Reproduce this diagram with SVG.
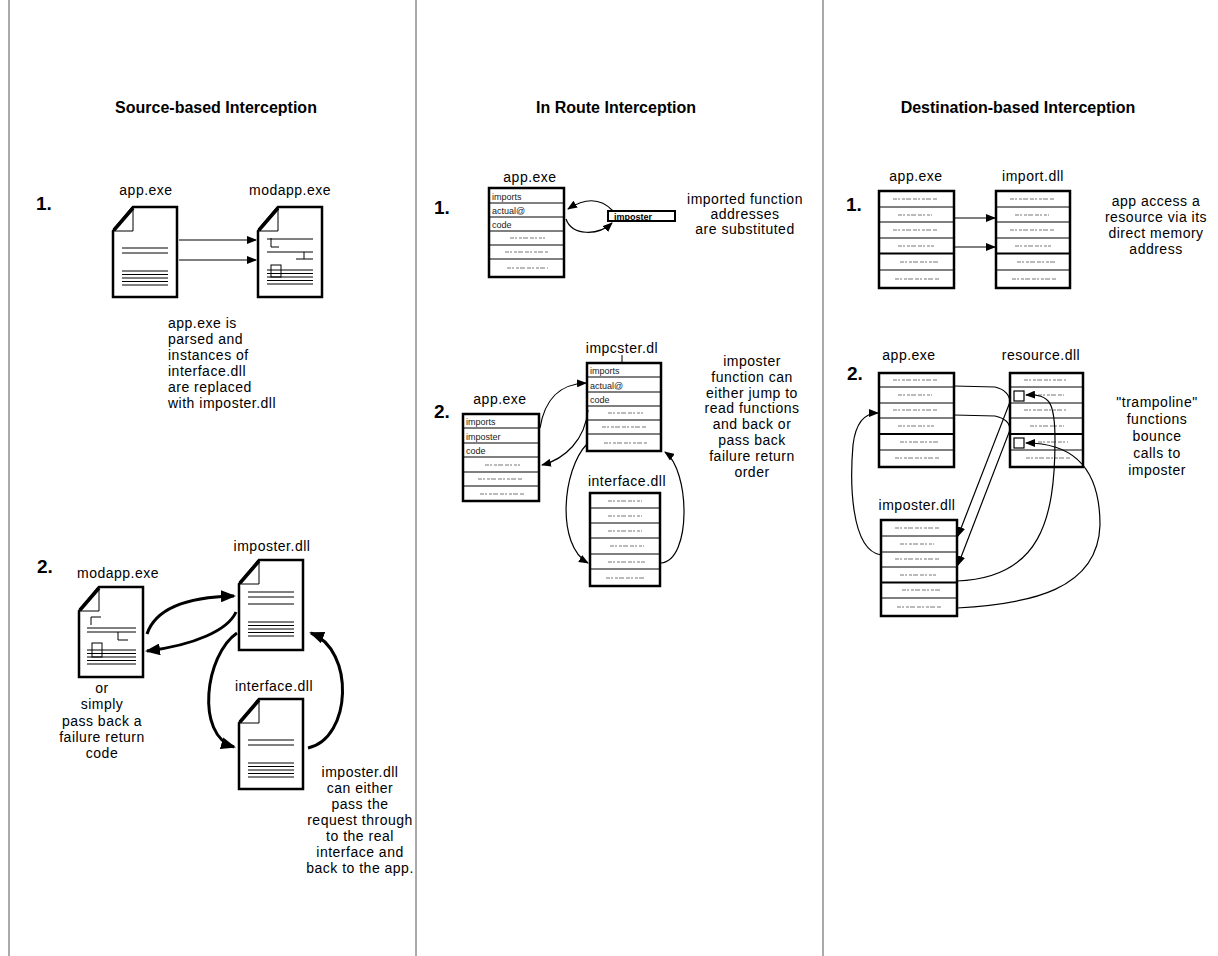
<svg xmlns="http://www.w3.org/2000/svg" width="1218" height="956" viewBox="0 0 1218 956">
<defs>
<style>
.t{font-family:"Liberation Sans",Arial,sans-serif;font-size:14px;fill:#000;letter-spacing:0.5px}
.ttl{font-weight:bold;font-size:16px;letter-spacing:0}
.num{font-weight:bold;font-size:19px;letter-spacing:0}
.lbl{font-size:9px;fill:#222;letter-spacing:0}
.bl{font-size:9px;font-weight:bold;letter-spacing:0}
.tbl{fill:#fff;stroke:#000;stroke-width:2.5}
.row{stroke:#000;stroke-width:1}
.rowb{stroke:#000;stroke-width:2.2}
.scr{stroke:#777;stroke-width:1;stroke-dasharray:4 1 2 2 3 1 5 2}
.doc{fill:#fff;stroke:#000;stroke-width:2.5;stroke-linejoin:miter}
.ear{fill:none;stroke:#000;stroke-width:3.5}
.fold{fill:none;stroke:#000;stroke-width:1}
.dl{fill:none;stroke:#000;stroke-width:1}
.c{fill:none;stroke:#000;stroke-width:1.2}
.cb{fill:none;stroke:#000;stroke-width:3}
.div{stroke:#555;stroke-width:1}
</style>
<marker id="ah" markerUnits="userSpaceOnUse" markerWidth="10" markerHeight="8" refX="9" refY="4" orient="auto"><path d="M0,0 L10,4 L0,8 Z" fill="#000"/></marker>
<marker id="ahb" markerUnits="userSpaceOnUse" markerWidth="15" markerHeight="12" refX="13" refY="6" orient="auto"><path d="M0,0 L15,6 L0,12 Z" fill="#000"/></marker>
<g id="docBody">
<path class="doc" d="M0,24 L20,0 L64,0 L64,90 L0,90 Z"/>
<path class="ear" d="M1,23 L20,1"/>
<path class="fold" d="M0,24 L20,24 L20,0"/>
</g>
<g id="plainLines">
<path class="dl" d="M9,41 H55 M9,46 H55 M9,64 H55 M9,67.5 H55 M9,71 H55 M9,74.5 H55 M9,78 H55"/>
</g>
</defs>

<g id="dividers">
<line class="div" x1="9" y1="0" x2="9" y2="956"/>
<line class="div" x1="416" y1="0" x2="416" y2="956"/>
<line class="div" x1="823" y1="0" x2="823" y2="956"/>
</g>

<g id="titles">
<text class="t ttl" x="216" y="113" text-anchor="middle">Source-based Interception</text>
<text class="t ttl" x="616" y="113" text-anchor="middle">In Route Interception</text>
<text class="t ttl" x="1018" y="113" text-anchor="middle">Destination-based Interception</text>
</g>

<!-- LEFT PANEL -->
<g id="left-step1">
<text class="t num" x="36" y="210">1.</text>
<text class="t" x="146" y="195" text-anchor="middle">app.exe</text>
<text class="t" x="290" y="195" text-anchor="middle">modapp.exe</text>
<text class="t" x="168" y="328"><tspan x="168" y="328">app.exe is</tspan><tspan x="168" y="344">parsed and</tspan><tspan x="168" y="360">instances of</tspan><tspan x="168" y="376">interface.dll</tspan><tspan x="168" y="392">are replaced</tspan><tspan x="168" y="408">with imposter.dll</tspan></text>
</g>
<g id="doc-app1" transform="translate(113,207)">
<use href="#docBody"/><use href="#plainLines"/>
</g>
<g id="doc-modapp1" transform="translate(258,207)">
<use href="#docBody"/>
<path class="dl" d="M9,32 H55 M13,31 V40 H21 M9,45 H55 M46,45 V52 M38,52 H55 M9,63 H55 M9,66.5 H55 M9,70 H55 M9,73.5 H55 M9,77 H55"/>
<rect x="13" y="58" width="10" height="12" fill="none" stroke="#000" stroke-width="1"/>
</g>

<g id="left-step2">
<text class="t num" x="37" y="573">2.</text>
<text class="t" x="118" y="578" text-anchor="middle">modapp.exe</text>
<text class="t" x="272" y="551" text-anchor="middle">imposter.dll</text>
<text class="t" x="274" y="691" text-anchor="middle">interface.dll</text>
<text class="t" text-anchor="middle"><tspan x="102" y="693">or</tspan><tspan x="102" y="709">simply</tspan><tspan x="102" y="726">pass back a</tspan><tspan x="102" y="742">failure return</tspan><tspan x="102" y="758">code</tspan></text>
<text class="t" text-anchor="middle"><tspan x="360" y="777">imposter.dll</tspan><tspan x="360" y="793">can either</tspan><tspan x="360" y="809">pass the</tspan><tspan x="360" y="825">request through</tspan><tspan x="360" y="841">to the real</tspan><tspan x="360" y="857">interface and</tspan><tspan x="360" y="873">back to the app.</tspan></text>
</g>
<g id="doc-modapp2" transform="translate(79,587)">
<use href="#docBody"/>
<path class="dl" d="M12,38 V30 H22 M8,41 H57 M8,45 H57 M39,45 V53 H49 M8,63 H57 M8,66.5 H57 M8,70 H57 M8,73.5 H57 M8,77 H57"/>
<rect x="13" y="56" width="10" height="14" fill="none" stroke="#000" stroke-width="1"/>
</g>
<g id="doc-imposter" transform="translate(239,560)">
<use href="#docBody"/>
<path class="dl" d="M9,32 H55 M9,37 H55 M9,44 H55 M9,62 H55 M9,65.5 H55 M9,69 H55 M9,72.5 H55 M9,76 H55"/>
</g>
<g id="doc-interface" transform="translate(239,699)">
<use href="#docBody"/><use href="#plainLines"/>
</g>

<!-- MIDDLE PANEL -->
<g id="mid-step1">
<text class="t num" x="434" y="214">1.</text>
<text class="t" x="530" y="182" text-anchor="middle">app.exe</text>
<text class="t" text-anchor="middle"><tspan x="745" y="204">imported function</tspan><tspan x="745" y="219">addresses</tspan><tspan x="745" y="234">are substituted</tspan></text>
</g>
<g id="tbl-app-m1">
<rect class="tbl" x="489" y="188" width="75" height="89"/>
<path class="row" d="M489,203 H564 M489,217 H564 M489,231 H564 M489,245 H564 M489,259 H564"/>
<text class="t lbl" x="492" y="200">imports</text>
<text class="t lbl" x="492" y="214">actual@</text>
<text class="t lbl" x="492" y="228">code</text>
<path class="scr" d="M510,238 H545 M505,252 H548 M507,268 H548"/>
</g>
<g id="imposter-box">
<rect x="608" y="211" width="67" height="10" fill="#fff" stroke="#000" stroke-width="2"/>
<text class="t bl" x="614" y="219.5">imposter</text>
</g>

<g id="mid-step2">
<text class="t num" x="434" y="418">2.</text>
<text class="t" x="500" y="404" text-anchor="middle">app.exe</text>
<text class="t" x="622" y="353" text-anchor="middle">impcster.dl</text>
<line class="dl" x1="622" y1="355" x2="622" y2="363"/>
<text class="t" x="627" y="486" text-anchor="middle">interface.dll</text>
<text class="t" text-anchor="middle"><tspan x="752" y="366">imposter</tspan><tspan x="752" y="382">function can</tspan><tspan x="752" y="398">either jump to</tspan><tspan x="752" y="413">read functions</tspan><tspan x="752" y="429">and back or</tspan><tspan x="752" y="445">pass back</tspan><tspan x="752" y="461">failure return</tspan><tspan x="752" y="477">order</tspan></text>
</g>
<g id="tbl-app-m2">
<rect class="tbl" x="463" y="414" width="76" height="87"/>
<path class="row" d="M463,428 H539 M463,443 H539 M463,457 H539 M463,472 H539 M463,486 H539"/>
<text class="t lbl" x="466" y="425">imports</text>
<text class="t lbl" x="466" y="440">imposter</text>
<text class="t lbl" x="466" y="454">code</text>
<path class="scr" d="M485,465 H520 M478,479 H523 M480,494 H525"/>
</g>
<g id="tbl-impdll-m2">
<rect class="tbl" x="587" y="363" width="74" height="88"/>
<path class="row" d="M587,377 H661 M587,392 H661 M587,406 H661 M587,420 H661 M587,434 H661"/>
<text class="t lbl" x="590" y="374">imports</text>
<text class="t lbl" x="590" y="389">actual@</text>
<text class="t lbl" x="590" y="403">code</text>
<path class="scr" d="M608,413 H643 M602,427 H646 M604,443 H647"/>
</g>
<g id="tbl-iface-m2">
<rect class="tbl" x="590" y="493" width="70" height="93"/>
<path class="row" d="M590,508 H660 M590,523 H660 M590,538 H660 M590,554 H660 M590,569 H660"/>
<path class="scr" d="M608,501 H642 M608,516 H642 M608,531 H642 M610,546 H644 M608,562 H645 M606,578 H646"/>
</g>

<!-- RIGHT PANEL -->
<g id="right-step1">
<text class="t num" x="846" y="211">1.</text>
<text class="t" x="916" y="181" text-anchor="middle">app.exe</text>
<text class="t" x="1033" y="181" text-anchor="middle">import.dll</text>
<text class="t" text-anchor="middle"><tspan x="1156" y="206">app access a</tspan><tspan x="1156" y="222">resource via its</tspan><tspan x="1156" y="238">direct memory</tspan><tspan x="1156" y="254">address</tspan></text>
</g>
<g id="tbl-app-r1">
<rect class="tbl" x="879" y="191" width="75" height="97"/>
<path class="row" d="M879,207 H954 M879,222 H954 M879,238 H954 M879,270 H954"/>
<path class="rowb" d="M879,253.5 H954"/>
<path class="scr" d="M893,199 H937 M898,215 H932 M893,230 H937 M898,246 H934 M900,262 H938 M895,279 H940"/>
</g>
<g id="tbl-import-r1">
<rect class="tbl" x="996" y="191" width="74" height="97"/>
<path class="row" d="M996,207 H1070 M996,222 H1070 M996,238 H1070 M996,270 H1070"/>
<path class="rowb" d="M996,253.5 H1070"/>
<path class="scr" d="M1010,199 H1054 M1015,215 H1049 M1010,230 H1054 M1015,246 H1051 M1017,262 H1055 M1012,279 H1057"/>
</g>

<g id="right-step2">
<text class="t num" x="847" y="380">2.</text>
<text class="t" x="909" y="360" text-anchor="middle">app.exe</text>
<text class="t" x="1041" y="360" text-anchor="middle">resource.dll</text>
<text class="t" x="917" y="510" text-anchor="middle">imposter.dll</text>
<text class="t" text-anchor="middle"><tspan x="1157" y="407">"trampoline"</tspan><tspan x="1157" y="424">functions</tspan><tspan x="1157" y="441">bounce</tspan><tspan x="1157" y="458">calls to</tspan><tspan x="1157" y="475">imposter</tspan></text>
</g>
<g id="tbl-app-r2">
<rect class="tbl" x="879" y="373" width="75" height="94"/>
<path class="row" d="M879,387 H954 M879,403 H954 M879,418 H954 M879,450 H954"/>
<path class="rowb" d="M879,434 H954"/>
<path class="scr" d="M893,380 H937 M898,395 H932 M893,410 H937 M898,426 H934 M900,442 H938 M895,458 H940"/>
</g>
<g id="tbl-resource-r2">
<rect class="tbl" x="1010" y="373" width="73" height="94"/>
<path class="row" d="M1010,387 H1083 M1010,403 H1083 M1010,418 H1083 M1010,450 H1083"/>
<path class="rowb" d="M1010,434 H1083"/>
<path class="scr" d="M1024,380 H1066 M1038,395 H1064 M1024,410 H1066 M1030,426 H1064 M1038,442 H1068 M1026,458 H1070"/>
<rect x="1014" y="391" width="10" height="10" fill="#fff" stroke="#000" stroke-width="1.2"/>
<rect x="1014" y="438" width="10" height="10" fill="#fff" stroke="#000" stroke-width="1.2"/>
</g>
<g id="tbl-imposter-r2">
<rect class="tbl" x="881" y="520" width="76" height="96"/>
<path class="row" d="M881,536 H957 M881,552 H957 M881,567 H957 M881,598 H957"/>
<path class="rowb" d="M881,582.5 H957"/>
<path class="scr" d="M895,528 H939 M900,544 H934 M895,559 H939 M900,575 H936 M902,590 H940 M897,607 H942"/>
</g>

<g id="connectors">
<!-- left step 1 -->
<path class="c" d="M179,240 H256" stroke-width="1.3" marker-end="url(#ah)"/>
<path class="c" d="M179,260 H256" stroke-width="1.3" marker-end="url(#ah)"/>
<!-- left step 2 -->
<path class="cb" d="M147,634 C155,610 185,597 234,596" marker-end="url(#ahb)"/>
<path class="cb" d="M236,612 C228,630 195,645 147,651" marker-end="url(#ahb)"/>
<path class="cb" d="M237,633 C205,655 195,735 234,747" marker-end="url(#ahb)"/>
<path class="cb" d="M308,748 C352,738 355,650 311,633" marker-end="url(#ahb)"/>
<!-- middle step 1 -->
<path class="c" d="M613,211 C600,197 585,198 568,209" marker-end="url(#ah)"/>
<path class="c" d="M566,219 C572,236 598,236 612,223" marker-end="url(#ah)"/>
<!-- middle step 2 -->
<path class="c" d="M540,428 C545,398 560,384 586,383" marker-end="url(#ah)"/>
<path class="c" d="M588,410 C585,440 565,459 542,465" marker-end="url(#ah)"/>
<path class="c" d="M587,444 C562,470 556,545 588,563" marker-end="url(#ah)"/>
<path class="c" d="M661,563 C692,560 690,470 665,452" marker-end="url(#ah)"/>
<!-- right step 1 -->
<path class="c" d="M954,218 H995" marker-end="url(#ah)"/>
<path class="c" d="M954,247 H995" marker-end="url(#ah)"/>
<!-- right step 2 -->
<path class="c" d="M954,386 L995,387 C1004,389 1010,395 1010,402 L958,536" marker-end="url(#ah)"/>
<path class="c" d="M954,415 L995,416 C1004,418 1010,422 1010,430 L958,565" marker-end="url(#ah)"/>
<path class="c" d="M957,581 C1040,578 1055,520 1055,440 C1055,402 1050,394 1026,395" marker-end="url(#ah)"/>
<path class="c" d="M957,608 C1030,604 1098,590 1100,525 C1100,470 1075,443 1026,443" marker-end="url(#ah)"/>
<path class="c" d="M881,555 C850,550 850,480 853,445 C856,420 866,413 878,413" marker-end="url(#ah)"/>
</g>
</svg>
